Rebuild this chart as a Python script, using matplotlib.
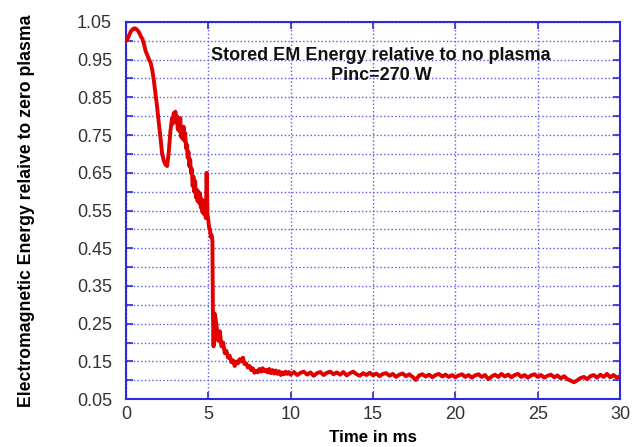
import matplotlib.pyplot as plt
from matplotlib.ticker import MultipleLocator

plt.rcParams['font.family'] = ['Liberation Sans', 'DejaVu Sans']

# time in ms
t_early = [0.0, 0.1, 0.2, 0.3, 0.4, 0.5, 0.6, 0.7, 0.8, 0.9,
           1.0, 1.1, 1.2, 1.3, 1.4, 1.5, 1.6, 1.7, 1.8, 1.9,
           2.0, 2.1, 2.2, 2.3, 2.4, 2.5, 2.6, 2.7]
e_early = [1.000, 1.005, 1.015, 1.025, 1.030, 1.033, 1.032, 1.028, 1.022, 1.012,
           1.005, 0.990, 0.972, 0.962, 0.950, 0.942, 0.922, 0.893, 0.858, 0.822,
           0.780, 0.742, 0.700, 0.682, 0.672, 0.668, 0.705, 0.760]

t_mid = [2.80, 2.85, 2.90, 2.95, 3.00, 3.05, 3.10, 3.15, 3.20, 3.25,
         3.30, 3.35, 3.40, 3.45, 3.50, 3.55, 3.60, 3.65, 3.70, 3.75,
         3.80, 3.85, 3.90, 3.95, 4.00, 4.05, 4.10, 4.15, 4.20, 4.25,
         4.30, 4.35, 4.40, 4.45, 4.50, 4.55, 4.60, 4.65, 4.70, 4.75,
         4.80, 4.85, 4.90, 4.95, 5.00, 5.05, 5.10, 5.15, 5.20, 5.25,
         5.28, 5.32, 5.36]
e_mid = [0.795, 0.780, 0.808, 0.790, 0.812, 0.785, 0.800, 0.765, 0.790, 0.760,
         0.795, 0.745, 0.770, 0.740, 0.772, 0.735, 0.755, 0.715, 0.725, 0.690,
         0.705, 0.668, 0.685, 0.650, 0.660, 0.615, 0.640, 0.600, 0.628, 0.585,
         0.605, 0.575, 0.600, 0.570, 0.595, 0.558, 0.580, 0.545, 0.575, 0.540,
         0.560, 0.530, 0.650, 0.540, 0.525, 0.505, 0.500, 0.480, 0.485, 0.470,
         0.285, 0.190, 0.278]

t_decay = [5.4, 5.5, 5.6, 5.7, 5.8, 5.9, 6.0, 6.1, 6.2, 6.3,
           6.4, 6.5, 6.6, 6.7, 6.8, 6.9, 7.0, 7.1, 7.2, 7.3,
           7.4, 7.5, 7.6, 7.7, 7.8, 7.9, 8.0, 8.1, 8.2, 8.3,
           8.4, 8.5, 8.6, 8.7, 8.8, 8.9, 9.0, 9.1, 9.2, 9.3,
           9.4, 9.5, 9.6, 9.7, 9.8, 9.9, 10.0]
e_decay = [0.275, 0.245, 0.205, 0.230, 0.190, 0.200, 0.172, 0.178, 0.160, 0.165,
           0.148, 0.153, 0.138, 0.150, 0.145, 0.156, 0.150, 0.160, 0.143, 0.145,
           0.134, 0.138, 0.127, 0.132, 0.120, 0.125, 0.121, 0.130, 0.123, 0.132,
           0.124, 0.128, 0.121, 0.130, 0.119, 0.127, 0.118, 0.126, 0.117, 0.124,
           0.114, 0.121, 0.116, 0.123, 0.117, 0.122, 0.115]

t_tail = [10.2, 10.4, 10.6, 10.8, 11.0, 11.2, 11.4, 11.6, 11.8, 12.0,
          12.2, 12.4, 12.6, 12.8, 13.0, 13.2, 13.4, 13.6, 13.8, 14.0,
          14.2, 14.4, 14.6, 14.8, 15.0, 15.2, 15.4, 15.6, 15.8, 16.0,
          16.2, 16.4, 16.6, 16.8, 17.0, 17.2, 17.4, 17.6, 17.8, 18.0,
          18.2, 18.4, 18.6, 18.8, 19.0, 19.2, 19.4, 19.6, 19.8, 20.0,
          20.2, 20.4, 20.6, 20.8, 21.0, 21.2, 21.4, 21.6, 21.8, 22.0,
          22.2, 22.4, 22.6, 22.8, 23.0, 23.2, 23.4, 23.6, 23.8, 24.0,
          24.2, 24.4, 24.6, 24.8, 25.0, 25.2, 25.4, 25.6, 25.8, 26.0,
          26.2, 26.4, 26.6, 26.8, 27.0, 27.2, 27.4, 27.6, 27.8, 28.0,
          28.2, 28.4, 28.6, 28.8, 29.0, 29.2, 29.4, 29.6, 29.8, 30.0]
e_tail = [0.122, 0.114, 0.120, 0.123, 0.115, 0.121, 0.112, 0.119, 0.122, 0.114,
          0.120, 0.123, 0.116, 0.121, 0.115, 0.122, 0.113, 0.119, 0.123, 0.116,
          0.112, 0.119, 0.114, 0.120, 0.113, 0.118, 0.111, 0.117, 0.119, 0.112,
          0.117, 0.109, 0.115, 0.118, 0.111, 0.116, 0.109, 0.101, 0.113, 0.116,
          0.110, 0.115, 0.108, 0.114, 0.117, 0.110, 0.115, 0.109, 0.114, 0.108,
          0.113, 0.116, 0.109, 0.114, 0.107, 0.113, 0.116, 0.109, 0.114, 0.103,
          0.110, 0.115, 0.109, 0.117, 0.110, 0.115, 0.108, 0.114, 0.117, 0.109,
          0.114, 0.107, 0.113, 0.116, 0.109, 0.114, 0.107, 0.112, 0.115, 0.108,
          0.113, 0.105, 0.111, 0.103, 0.099, 0.095, 0.100, 0.106, 0.109, 0.103,
          0.111, 0.114, 0.107, 0.115, 0.109, 0.117, 0.108, 0.114, 0.107, 0.111]

t = t_early + t_mid + t_decay + t_tail
energy = e_early + e_mid + e_decay + e_tail

blue = '#2a2ae0'
grid_blue = '#5a5ae6'

fig = plt.figure(figsize=(6.36, 4.47), dpi=100)
ax = fig.add_axes([0.198, 0.107, 0.777, 0.844])

ax.plot(t, energy, color='#e00000', linewidth=2.8, zorder=3)

ax.set_xlim(0, 30)
ax.set_ylim(0.05, 1.05)
ax.xaxis.set_major_locator(MultipleLocator(5))
ax.yaxis.set_major_locator(MultipleLocator(0.1, offset=0.05))
ax.yaxis.set_minor_locator(MultipleLocator(0.05))
ax.yaxis.set_major_formatter(plt.FuncFormatter(lambda v, p: f"{v:.2f}"))

ax.grid(which='major', color=grid_blue, linestyle=':', linewidth=1.0)
ax.grid(which='minor', axis='y', color=grid_blue, linestyle=':', linewidth=1.0)

for s in ax.spines.values():
    s.set_color(blue)
    s.set_linewidth(1.5)
ax.tick_params(which='both', direction='in', top=True, right=True,
               color=blue, length=5, width=1.2, labelsize=13, labelcolor='#333333')
ax.tick_params(axis='y', pad=10)
ax.tick_params(axis='x', pad=5)

ax.set_xlabel("Time in ms", fontsize=12.2, fontweight='bold', labelpad=5)
ax.set_ylabel("Electromagnetic Energy relaive to zero plasma", fontsize=12.7,
              fontweight='bold', labelpad=30)

ax.text(0.516, 0.912, "Stored EM Energy relative to no plasma", transform=ax.transAxes,
        ha='center', va='center', fontsize=13, fontweight='bold', color='#111111')
ax.text(0.516, 0.859, "Pinc=270 W", transform=ax.transAxes,
        ha='center', va='center', fontsize=13, fontweight='bold', color='#111111')

plt.savefig("out.png", dpi=100)
